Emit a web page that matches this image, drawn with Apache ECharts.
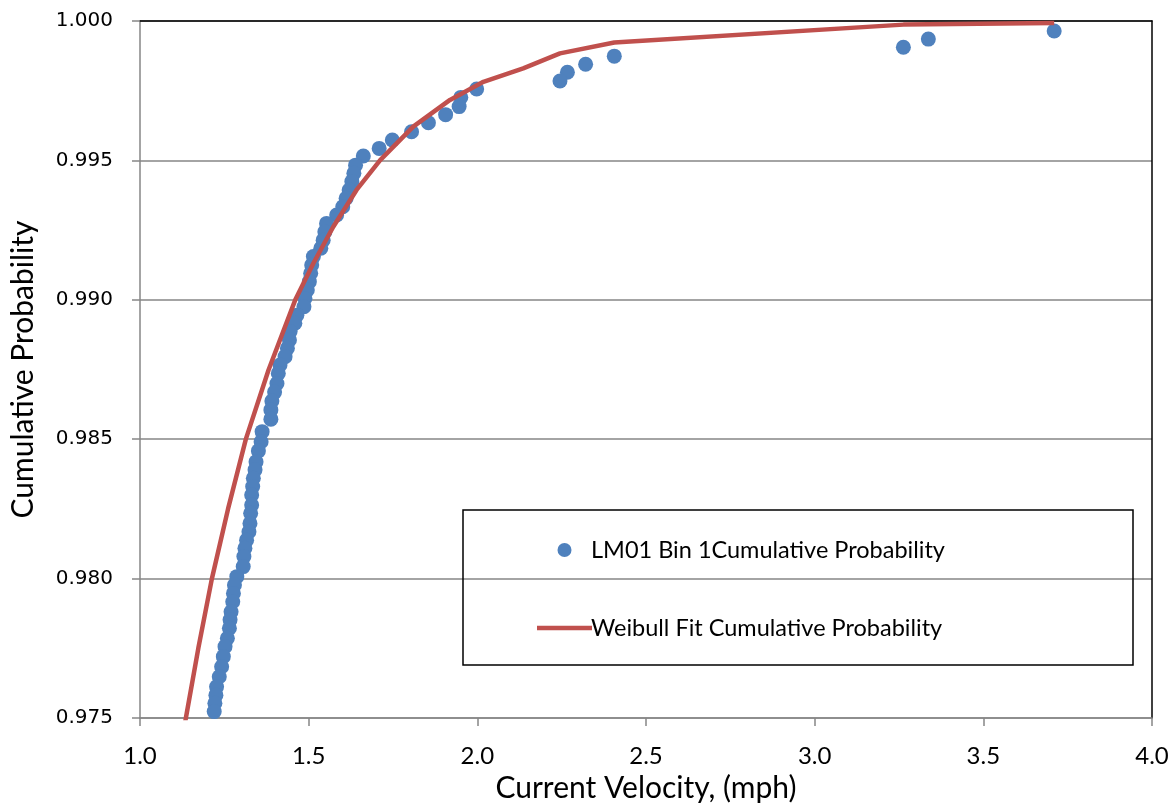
<!DOCTYPE html>
<html>
<head>
<meta charset="utf-8">
<script src="https://cdn.jsdelivr.net/npm/echarts@6/dist/echarts.min.js"></script>
<style>
  html, body { margin: 0; padding: 0; background: #fff; }
  #chart { width: 1174px; height: 803px; }
</style>
</head>
<body>
<div id="chart"></div>
<script>
const obsVelocity = [3.710, 3.337, 3.263, 2.406, 2.321, 2.267, 2.245, 1.998, 1.951, 1.946,
  1.906, 1.855, 1.805, 1.748, 1.709, 1.662, 1.639, 1.634, 1.628, 1.620,
  1.611, 1.601, 1.583, 1.553, 1.548, 1.543, 1.536, 1.514, 1.509, 1.506,
  1.502, 1.496, 1.489, 1.486, 1.465, 1.459, 1.445, 1.443, 1.437, 1.430,
  1.415, 1.410, 1.406, 1.399, 1.391, 1.388, 1.388, 1.362, 1.359, 1.351,
  1.344, 1.341, 1.336, 1.334, 1.331, 1.331, 1.328, 1.326, 1.323, 1.316,
  1.311, 1.308, 1.306, 1.287, 1.280, 1.277, 1.275, 1.270, 1.267, 1.265,
  1.259, 1.252, 1.247, 1.242, 1.235, 1.227, 1.225, 1.222, 1.220]
const obsProb = [0.99964, 0.99935, 0.99906, 0.99874, 0.99845, 0.99816, 0.99785, 0.99756, 0.99726, 0.99693,
  0.99664, 0.99635, 0.99603, 0.99573, 0.99543, 0.99516, 0.99483, 0.99454, 0.99424, 0.99394,
  0.99364, 0.99334, 0.99304, 0.99274, 0.99244, 0.99214, 0.99185, 0.99155, 0.99125, 0.99095,
  0.99065, 0.99035, 0.99005, 0.98975, 0.98945, 0.98916, 0.98886, 0.98856, 0.98826, 0.98796,
  0.98766, 0.98736, 0.98700, 0.98669, 0.98637, 0.98605, 0.98572, 0.98527, 0.98491, 0.98458,
  0.98419, 0.98390, 0.98360, 0.98330, 0.98300, 0.98264, 0.98234, 0.98198, 0.98168, 0.98138,
  0.98109, 0.98079, 0.98043, 0.98007, 0.97977, 0.97947, 0.97917, 0.97881, 0.97852, 0.97822,
  0.97786, 0.97756, 0.97720, 0.97684, 0.97648, 0.97612, 0.97582, 0.97553, 0.97523]

// weibull fit curve
const fitVelocity = [1.130, 1.136, 1.173, 1.213, 1.261, 1.314, 1.381, 1.460, 1.514,
  1.573, 1.642, 1.712, 1.810, 1.919, 2.018, 2.136, 2.245, 2.406, 3.263, 3.337, 3.710]
const fitProb = [0.97457, 0.97500, 0.97751, 0.97999, 0.98250, 0.98501, 0.98748, 0.98999, 0.99131,
  0.99262, 0.99394, 0.99501, 0.99621, 0.99717, 0.99782, 0.99830, 0.99884, 0.99923, 0.99987, 0.99988, 0.99993]

const seriesNames = ['LM01 Bin 1Cumulative Probability', 'Weibull Fit Cumulative Probability']

const titleFont = 'Lato'
const chart = echarts.init(document.getElementById('chart'))

chart.setOption({
  animation: false,
  grid: { left: 140, right: 22, top: 21, bottom: 85, outerBoundsMode: 'none', containLabel: false },
  legend: {
    orient: 'vertical',
    left: 532,
    top: 532,
    itemWidth: 55,
    itemHeight: 14,
    itemGap: 52,
    data: [
      { name: seriesNames[0], icon: 'circle' },
      { name: seriesNames[1], icon: 'path://M0,0H55V4.5H0Z' },
    ],
    textStyle: { fontFamily: titleFont, fontSize: 23.5, color: '#000', lineHeight: 26, padding: [0, 0, 0, -6] },
  },
  graphic: [{
    type: 'rect',
    shape: { x: 463, y: 510, width: 670, height: 155 },
    style: { fill: 'none', stroke: '#000', lineWidth: 1.5 },
    z: 10,
  }],
  xAxis: [{
    type: 'value',
    min: 1,
    max: 4,
    interval: 0.5,
    name: 'Current Velocity, (mph)',
    nameLocation: 'middle',
    nameGap: 54,
    nameTextStyle: { fontFamily: titleFont, fontSize: 30, color: '#000' },
    axisLine: { lineStyle: { color: '#868686', width: 1.5 } },
    axisTick: { show: true, inside: false, length: 8, lineStyle: { color: '#868686', width: 1.5 } },
    axisLabel: { margin: 26, fontFamily: titleFont, fontSize: 24, color: '#000', formatter: (v) => v.toFixed(1) },
    splitLine: { show: false },
  }, {
    // top frame line
    type: 'value', position: 'top', min: 1, max: 4,
    axisLine: { show: true, onZero: false, lineStyle: { color: '#000', width: 1.5 } },
    axisTick: { show: false }, axisLabel: { show: false }, splitLine: { show: false },
  }],
  yAxis: [{
    type: 'value',
    min: 0.975,
    max: 1.0,
    interval: 0.005,
    name: 'Cumulative Probability',
    nameLocation: 'middle',
    nameGap: 102,
    nameTextStyle: { fontFamily: titleFont, fontSize: 30, color: '#000' },
    axisLine: { show: true, lineStyle: { color: '#868686', width: 1.5 } },
    axisTick: { show: true, inside: false, length: 8, lineStyle: { color: '#868686', width: 1.5 } },
    axisLabel: { margin: 27, fontFamily: 'DejaVu Sans', fontSize: 20, color: '#000', formatter: (v) => v.toFixed(3) },
    splitLine: { show: true, lineStyle: { color: '#868686', width: 1.5 } },
  }, {
    // right frame line
    type: 'value', position: 'right', min: 0.975, max: 1.0,
    axisLine: { show: true, onZero: false, lineStyle: { color: '#000', width: 1.5 } },
    axisTick: { show: false }, axisLabel: { show: false }, splitLine: { show: false },
  }],
  series: [{
    name: seriesNames[0],
    type: 'scatter',
    symbol: 'circle',
    symbolSize: 15,
    itemStyle: { color: '#4F81BD', opacity: 1 },
    data: obsVelocity.map((v, i) => [v, obsProb[i]]),
    z: 2,
  }, {
    name: seriesNames[1],
    type: 'line',
    symbol: 'none',
    clip: true,
    lineStyle: { color: '#C0504D', width: 4.5 },
    itemStyle: { color: '#C0504D' },
    data: fitVelocity.map((v, i) => [v, fitProb[i]]),
    z: 3,
  }],
})
</script>
</body>
</html>
